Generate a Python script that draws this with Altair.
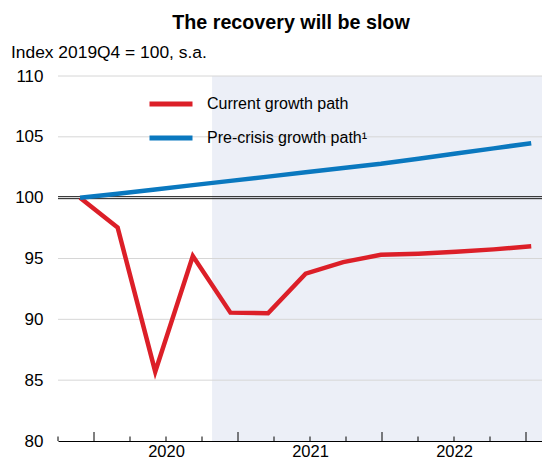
import altair as alt
import pandas as pd

# ---- data ----
quarters = ["2019Q4", "2020Q1", "2020Q2", "2020Q3", "2020Q4", "2021Q1", "2021Q2",
            "2021Q3", "2021Q4", "2022Q1", "2022Q2", "2022Q3", "2022Q4"]
current = [100, 97.55, 85.7, 95.2, 90.55, 90.5, 93.75, 94.7, 95.3, 95.4, 95.55, 95.75, 96.0]
precrisis = [100, 100.33, 100.68, 101.03, 101.38, 101.73, 102.08, 102.43, 102.78,
             103.2, 103.63, 104.05, 104.48]
series_names = ["Current growth path", "Pre-crisis growth path¹"]
series_colors = ["#DC1F28", "#0A78BF"]
year_label_pos = [2020.5, 2021.5, 2022.5]
y_ticks = [80, 85, 90, 95, 100, 105, 110]
grid_vals = [85, 90, 95, 105, 110]
long_ticks = [2020.0, 2021.0, 2022.0, 2023.0]
short_ticks = [2019.75, 2020.25, 2020.5, 2020.75, 2021.25, 2021.5, 2021.75,
               2022.25, 2022.5, 2022.75]
x_domain = [2019.75, 2023.111]
first_point = 2019.903   # position of 2019Q4 on the time axis
point_step = 0.2611      # spacing of the quarterly points on the axis
forecast_start = 2020.82

title_text = "The recovery will be slow"
subtitle_text = "Index 2019Q4 = 100, s.a."

FONT = "Liberation Sans"
W, H = 484, 365

rows = []
for i, q in enumerate(quarters):
    rows.append({"q": q, "x": first_point + i * point_step, "v": current[i], "s": series_names[0]})
    rows.append({"q": q, "x": first_point + i * point_step, "v": precrisis[i], "s": series_names[1]})
df = pd.DataFrame(rows)

xs = alt.Scale(domain=x_domain, nice=False, zero=False)
ys = alt.Scale(domain=[80, 110], nice=False, zero=False)

x_axis = alt.Axis(values=year_label_pos, labelExpr="floor(datum.value)", ticks=False, grid=False,
                  domainColor="#000000", domainWidth=1, labelFont=FONT, labelFontSize=16.5,
                  labelColor="#000000", labelPadding=2, title=None, zindex=1)
y_axis = alt.Axis(values=y_ticks, ticks=False, grid=False, domain=False, labelFont=FONT,
                  labelFontSize=17, labelColor="#000000", labelPadding=15, title=None, zindex=1)

shade = alt.Chart(pd.DataFrame({"a": [forecast_start], "b": [x_domain[1]], "y0": [80], "y1": [110]})).mark_rect(
    color="#ECEFF7").encode(
    x=alt.X("a:Q", scale=xs, axis=x_axis), x2="b:Q",
    y=alt.Y("y0:Q", scale=ys, axis=y_axis), y2="y1:Q")

grid = alt.Chart(pd.DataFrame({"g": grid_vals})).mark_rule(color="#D6D6D6", strokeWidth=1).encode(
    y=alt.Y("g:Q", scale=ys, axis=y_axis))

ref_a = alt.Chart(pd.DataFrame({"g": [100]})).mark_rule(color="#1A1A1A", strokeWidth=1, yOffset=-1).encode(
    y=alt.Y("g:Q", scale=ys, axis=y_axis))
ref_b = alt.Chart(pd.DataFrame({"g": [100]})).mark_rule(color="#1A1A1A", strokeWidth=1, yOffset=1).encode(
    y=alt.Y("g:Q", scale=ys, axis=y_axis))

lines = alt.Chart(df).mark_line(strokeWidth=4.5).encode(
    x=alt.X("x:Q", scale=xs, axis=x_axis),
    y=alt.Y("v:Q", scale=ys, axis=y_axis),
    color=alt.Color("s:N", scale=alt.Scale(domain=series_names, range=series_colors),
                    legend=alt.Legend(orient="none", legendX=89, legendY=4, title=None,
                                      symbolType="stroke", symbolSize=1849,
                                      symbolStrokeWidth=5, labelFont=FONT, labelFontSize=16,
                                      labelColor="#000000", labelOffset=12, rowPadding=-16,
                                      labelLimit=400)),
    detail="s:N", order="x:Q")

tick_long = alt.Chart(pd.DataFrame({"t": long_ticks})).mark_rule(color="#000000", strokeWidth=1).encode(
    x=alt.X("t:Q", scale=xs, axis=x_axis), y=alt.value(H), y2=alt.value(H - 9))
tick_short = alt.Chart(pd.DataFrame({"t": short_ticks})).mark_rule(color="#000000", strokeWidth=1).encode(
    x=alt.X("t:Q", scale=xs, axis=x_axis), y=alt.value(H), y2=alt.value(H - 4.5))

title = alt.Chart(pd.DataFrame({"t": [title_text]})).mark_text(
    font=FONT, fontSize=19.7, fontWeight="bold", align="center", baseline="alphabetic",
    color="#000000").encode(text="t:N", x=alt.value(233), y=alt.value(-47))
subtitle = alt.Chart(pd.DataFrame({"t": [subtitle_text]})).mark_text(
    font=FONT, fontSize=17.4, align="left", baseline="alphabetic",
    color="#000000").encode(text="t:N", x=alt.value(-47), y=alt.value(-18))

chart = alt.layer(shade, grid, ref_a, ref_b, lines, tick_long, tick_short, title, subtitle).properties(
    width=W, height=H,
    autosize=alt.AutoSizeParams(type="none"),
    padding={"left": 50, "top": 68, "right": 0, "bottom": 19},
    background="white",
).configure_view(stroke=None)

chart.save("out.html", embed_options={"renderer": "svg", "actions": False})
